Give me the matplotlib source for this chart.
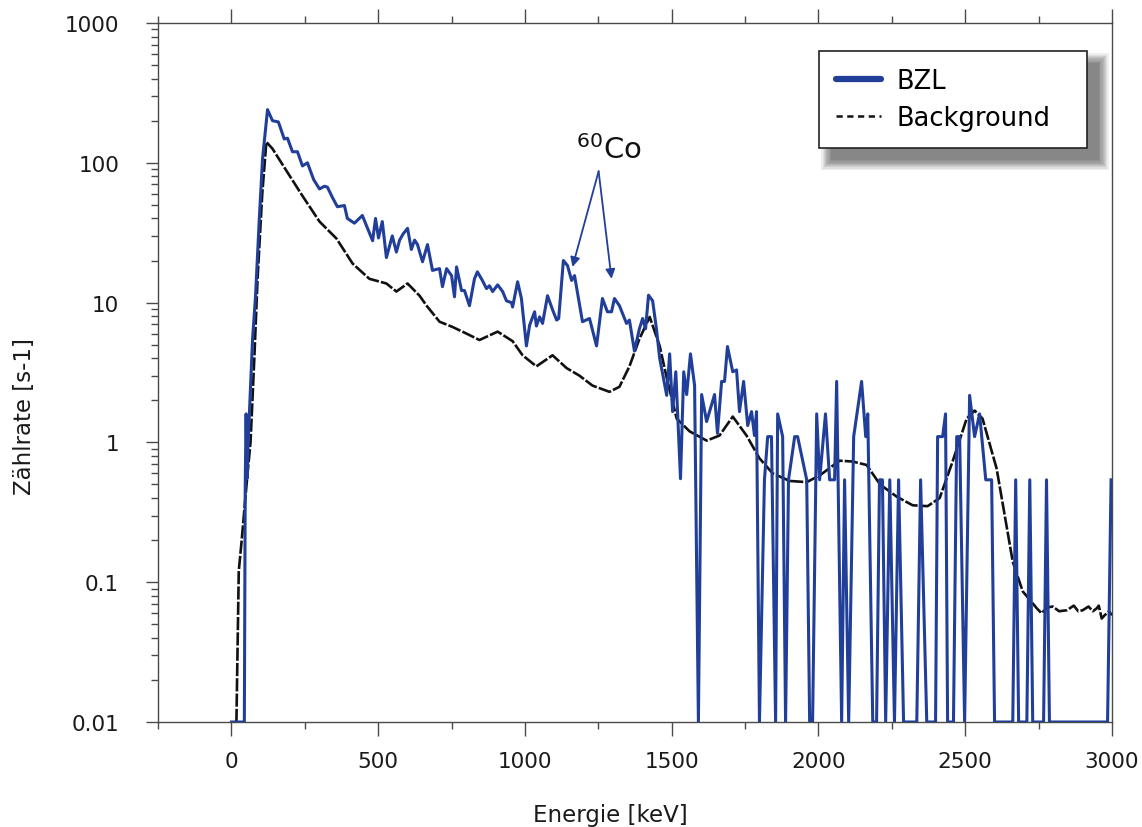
import matplotlib
matplotlib.use("Agg")
import matplotlib.pyplot as plt
from matplotlib.lines import Line2D
from matplotlib.patches import Rectangle
from matplotlib.ticker import FixedLocator, FuncFormatter, LogLocator, NullFormatter

# BZL spectrum, energy [keV] / count rate [s-1] (0.01 = empty bin, floor of the plot)
bzl_kev = [0, 44, 47, 50, 53, 57, 65, 72, 82, 95,
           106, 123, 140, 160, 180, 191, 208, 225, 242, 259,
           280, 300, 317, 327, 345, 361, 385, 395, 419, 446,
           481, 491, 501, 514, 528, 548, 562, 573, 585, 600,
           613, 624, 634, 651, 668, 685, 709, 719, 733, 750,
           760, 767, 784, 794, 811, 828, 838, 855, 869, 879,
           890, 907, 924, 937, 954, 958, 975, 988, 1005, 1016,
           1033, 1039, 1050, 1060, 1077, 1094, 1108, 1115, 1131, 1145,
           1159, 1169, 1196, 1220, 1244, 1264, 1281, 1295, 1305, 1322,
           1346, 1356, 1373, 1390, 1401, 1411, 1421, 1435, 1448, 1459,
           1483, 1493, 1503, 1514, 1530, 1541, 1551, 1564, 1578, 1591,
           1602, 1619, 1629, 1646, 1656, 1670, 1680, 1690, 1708, 1721,
           1731, 1745, 1759, 1772, 1782, 1789, 1799, 1816, 1827, 1840,
           1854, 1861, 1878, 1888, 1898, 1919, 1929, 1960, 1970, 1980,
           1994, 2004, 2024, 2038, 2055, 2062, 2079, 2089, 2103, 2120,
           2147, 2161, 2168, 2185, 2198, 2208, 2218, 2229, 2243, 2259,
           2273, 2290, 2335, 2348, 2369, 2399, 2406, 2423, 2433, 2440,
           2460, 2471, 2481, 2498, 2515, 2532, 2549, 2570, 2590, 2600,
           2662, 2672, 2682, 2710, 2720, 2730, 2767, 2777, 2787, 2985,
           2997]
bzl_rate = [0.01, 0.01, 0.5, 1.6, 0.55, 1.0, 2.5, 5.5, 11, 40,
            107, 240, 200, 196, 148, 150, 120, 120, 95, 100,
            76, 65, 68, 67, 56, 48.5, 49.5, 40, 37, 42,
            27.7, 40, 29, 38, 21, 30, 23, 28, 31, 34,
            24, 28, 26, 19.6, 26, 17, 17.5, 13, 17.5, 15.6,
            11, 18, 12.2, 12.2, 9.5, 14.8, 16.6, 14.4, 12.6, 13.2,
            12, 13.4, 12, 10.3, 10, 9.3, 14.1, 10.7, 4.9, 6.9,
            8.6, 6.8, 7.9, 7.1, 11.2, 8.9, 7.5, 7.7, 20, 18.4,
            14.4, 15.6, 7.3, 7.7, 4.9, 10.7, 8.6, 8.6, 10.7, 9.5,
            7.1, 7.5, 4.5, 6.5, 7.7, 6.5, 11.3, 10.3, 6.5, 4.0,
            2.17, 4.3, 1.66, 3.2, 0.55, 3.2, 2.2, 4.3, 2.55, 0.01,
            2.2, 1.41, 1.66, 2.2, 1.16, 2.73, 2.73, 4.85, 3.2, 3.3,
            1.66, 2.73, 1.32, 1.66, 1.12, 1.66, 0.01, 0.54, 1.1, 1.1,
            0.01, 1.6, 1.1, 0.01, 0.54, 1.1, 1.1, 0.54, 0.01, 0.01,
            1.6, 0.54, 1.6, 0.54, 0.54, 2.73, 0.01, 0.54, 0.01, 1.1,
            2.73, 1.1, 1.6, 0.01, 0.01, 0.54, 0.54, 0.01, 0.54, 0.01,
            0.54, 0.01, 0.01, 0.54, 0.01, 0.01, 1.1, 1.1, 1.6, 0.01,
            0.01, 1.1, 1.1, 0.01, 2.17, 1.1, 1.6, 0.54, 0.54, 0.01,
            0.01, 0.54, 0.01, 0.01, 0.54, 0.01, 0.01, 0.54, 0.01, 0.01,
            0.54]

# background spectrum
bg_kev = [17, 25, 35, 45, 55, 65, 78, 89, 105, 119,
          140, 187, 242, 300, 358, 413, 470, 528, 562, 600,
          641, 665, 709, 753, 801, 845, 907, 958, 992, 1039,
          1094, 1142, 1186, 1230, 1288, 1322, 1356, 1390, 1425, 1459,
          1483, 1517, 1561, 1619, 1663, 1708, 1755, 1799, 1844, 1902,
          1960, 2004, 2072, 2116, 2164, 2210, 2266, 2321, 2372, 2413,
          2457, 2505, 2532, 2559, 2607, 2662, 2696, 2744, 2760, 2780,
          2798, 2820, 2846, 2870, 2885, 2900, 2920, 2935, 2948, 2955,
          2965, 2975, 2990, 3000]
bg_rate = [0.01, 0.12, 0.2, 0.35, 0.6, 1.0, 4, 14.8, 60, 141,
           126, 88, 58, 38, 28.7, 19, 14.8, 13.7, 12, 13.7,
           11.2, 9.5, 7.3, 6.7, 6.0, 5.4, 6.2, 5.3, 4.2, 3.5,
           4.2, 3.4, 3.0, 2.55, 2.3, 2.5, 3.5, 5.5, 7.9, 4.9,
           2.9, 1.48, 1.2, 1.03, 1.12, 1.53, 1.12, 0.77, 0.6, 0.53,
           0.52, 0.58, 0.74, 0.73, 0.69, 0.5, 0.41, 0.355, 0.35, 0.4,
           0.73, 1.48, 1.69, 1.48, 0.65, 0.14, 0.086, 0.065, 0.06, 0.066,
           0.067, 0.062, 0.063, 0.068, 0.062, 0.063, 0.067, 0.062, 0.065, 0.068,
           0.055, 0.058, 0.062, 0.058]

x_major = [0, 500, 1000, 1500, 2000, 2500, 3000]
x_minor = [-250, 250, 750, 1250, 1750, 2250, 2750]

blue = '#213f99'
axis_col = '#4a4a4a'

fig = plt.figure(figsize=(11.42, 8.28), dpi=100)
ax = fig.add_axes([0.1384, 0.1268, 0.8353, 0.8442])

ax.plot(bzl_kev, bzl_rate, color=blue, lw=2.2, zorder=3)
ax.plot(bg_kev, bg_rate, color='#111111', lw=1.9, dashes=(5, 0.8), zorder=2)

ax.set_yscale('log')
ax.set_xlim(-250, 3000)
ax.set_ylim(0.01, 1000)

# axes frame and ticks
for s in ax.spines.values():
    s.set_color(axis_col)
    s.set_linewidth(1.0)
ax.xaxis.set_major_locator(FixedLocator(x_major))
ax.xaxis.set_minor_locator(FixedLocator(x_minor))
ax.yaxis.set_major_locator(LogLocator(base=10, numticks=10))
ax.yaxis.set_minor_locator(LogLocator(base=10, subs=range(2, 10), numticks=10))
ax.yaxis.set_major_formatter(FuncFormatter(lambda v, p: '%g' % v))
ax.yaxis.set_minor_formatter(NullFormatter())
ax.tick_params(axis='x', which='both', direction='out', top=True, bottom=True,
               colors=axis_col, labelcolor='#1a1a1a', labelsize=15.5, pad=11)
ax.tick_params(axis='x', which='major', length=10, width=1)
ax.tick_params(axis='x', which='minor', length=5, width=1)
ax.tick_params(axis='y', which='both', direction='out', left=True, right=False,
               colors=axis_col, labelcolor='#1a1a1a', labelsize=15.5, pad=19)
ax.tick_params(axis='y', which='major', length=9, width=1)
ax.tick_params(axis='y', which='minor', length=5, width=1)

ax.set_xlabel('Energie [keV]', fontsize=16.5, color='#1a1a1a')
ax.set_ylabel('Zählrate [s-1]', fontsize=16.5, color='#1a1a1a')
ax.xaxis.set_label_coords(0.474, -0.116)
ax.yaxis.set_label_coords(-0.128, 0.438)

# 60Co annotation with two arrows
ax.text(1285, 126, r'$^{60}$Co', fontsize=21, ha='center', va='center', color='#111111')
for tip in [(1162, 18), (1295, 14.8)]:
    ax.annotate('', xy=tip, xytext=(1251, 87),
                arrowprops=dict(arrowstyle='-|>', color=blue, lw=1.3,
                                mutation_scale=14, shrinkA=0, shrinkB=0))

# legend, stretched to the width of the original box
handles = [Line2D([], [], color=blue, lw=4.5, solid_capstyle='round'),
           Line2D([], [], color='#111111', lw=1.8, dashes=(2.5, 1.8))]
leg = ax.legend(handles, ['BZL', 'Background'], loc='upper left',
                bbox_to_anchor=(0.6929, 0.70, 0.2809, 0.26), mode='expand',
                fontsize=18.5, frameon=True,
                fancybox=False, edgecolor='#222222', framealpha=1,
                handlelength=1.75, handletextpad=0.6, labelspacing=0.4,
                borderpad=0.68, borderaxespad=0)
leg.get_frame().set_linewidth(1.2)
leg.set_zorder(6)

# soft drop shadow behind the legend box (offset to the lower right)
fig.canvas.draw()
bb = leg.get_window_extent().transformed(ax.transAxes.inverted())
px_x = 1.0 / (0.8353 * 1142)
px_y = 1.0 / (0.8442 * 828)
for i in range(9):
    grow = i * 1.2
    ax.add_patch(Rectangle((bb.x0 + (12 - grow) * px_x, bb.y0 - (12 + grow) * px_y),
                           bb.width + 2 * grow * px_x, bb.height + 2 * grow * px_y,
                           transform=ax.transAxes, facecolor='black', edgecolor='none',
                           alpha=0.065, clip_on=False, zorder=5))

fig.savefig('out.png', dpi=100)
